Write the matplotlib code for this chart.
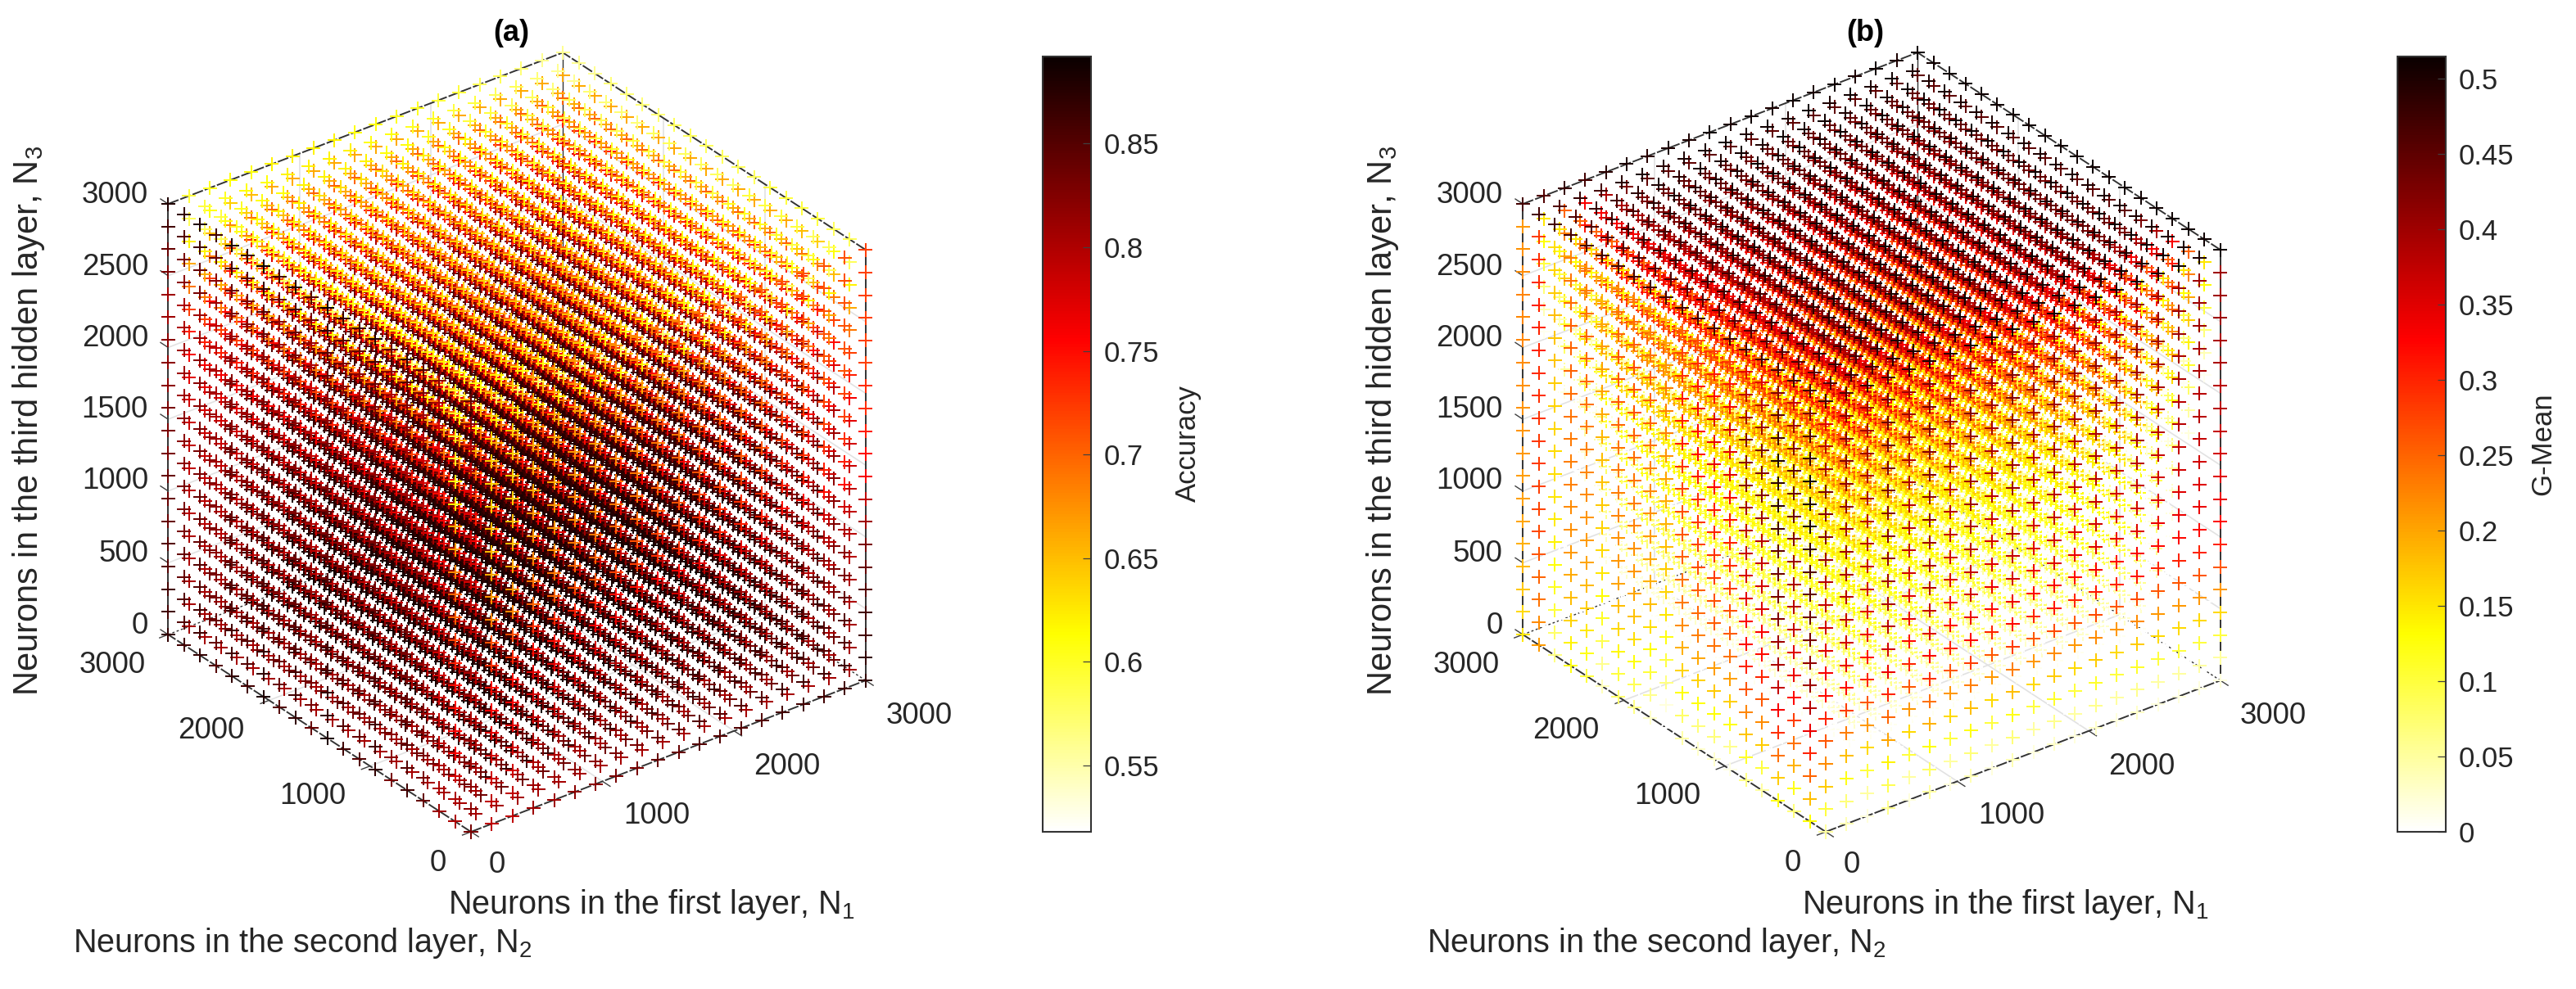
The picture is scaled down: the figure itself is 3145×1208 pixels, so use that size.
import numpy as np
import matplotlib
matplotlib.use("Agg")
import matplotlib.pyplot as plt
from mpl_toolkits.mplot3d import proj3d

plt.rcParams['font.family'] = ['Liberation Sans', 'DejaVu Sans']
plt.rcParams['mathtext.default'] = 'regular'

# ---------------------------------------------------------------------------
# Data. The individual 8000 values cannot be read from the overlapping picture,
# so these lists are coarse visual estimates per grid level, read off the visible
# faces and layers of the cube; a point takes its value by looking them up.
# ---------------------------------------------------------------------------
levels = [0, 158, 316, 474, 632, 789, 947, 1105, 1263, 1421,
          1579, 1737, 1895, 2053, 2211, 2368, 2526, 2684, 2842, 3000]
xy_ticks = [0, 1000, 2000, 3000]
z_ticks = [0, 500, 1000, 1500, 2000, 2500, 3000]

# (a) Accuracy
acc_left_j = [.80, .62, .78, .81, .83, .80, .84, .82, .83, .85, .81, .84, .82, .85, .83, .84, .82, .84, .83, .84]
acc_left_k = [.03, .02, .02, .01, .01, 0, 0, 0, -.01, -.01, -.01, -.02, -.02, -.02, -.03, -.03, -.01, 0, .02, .04]
acc_col1_k = [.80, .80, .78, .76, .76, .75, .75, .74, .72, .70, .70, .68, .67, .66, .62, .61, .60, .60, .60, .60]
acc_right_i = [.74, .72, .72, .74, .74, .75, .75, .76, .76, .77, .77, .78, .78, .78, .78, .79, .79, .79, .79, .80]
acc_right_k = [.07, .07, .06, .06, .05, .04, .03, .01, -.01, -.04, -.05, -.06, -.07, -.07, -.08, -.08, -.08, -.08, -.08, -.08]
acc_top_i = [.60, .61, .62, .63, .63, .64, .64, .64, .64, .63, .63, .62, .62, .61, .61, .60, .60, .59, .58, .58]
acc_top_j = [0, 0, 0, .01, .01, .01, .01, 0, 0, 0, 0, 0, 0, -.01, -.01, -.01, -.01, -.02, -.02, -.02]
acc_in_k = [.885, .885, .885, .88, .88, .875, .875, .87, .87, .865, .86, .85, .84, .82, .80, .77, .74, .70, .66, .60]
acc_in_m = [0, -.08, -.05, -.02, -.01, 0, 0, 0, 0, 0, 0, 0, 0, 0, 0, 0, 0, 0, 0, 0]

# (b) G-Mean
gm_left_j = [.30, .38, .32, .37, .30, .30, .24, .24, .23, .22, .15, .18, .20, .20, .15, .20, .21, .14, .27, .20]
gm_left_k = [-.25, -.20, -.13, -.08, -.04, 0, .02, .03, .05, .06, .07, .08, .10, .12, .12, .13, .10, .08, .05, .05]
gm_left_w = [1, 1, 1, 1, 1, .95, .9, .85, .8, .7, .65, .6, .55, .5, .45, .4, .35, .3, .25, .2]
gm_right_i = [.02, .02, 0, .04, 0, .03, 0, .02, 0, .02, 0, .01, 0, .01, 0, .01, 0, 0, 0, 0]
gm_right_k = [.02, .05, .10, .16, .21, .26, .30, .32, .34, .35, .36, .37, .38, .38, .39, .39, .40, .40, .40, .40]
gm_top_i = [.47, .46, .48, .47, .49, .50, .49, .50, .50, .51, .50, .51, .50, .51, .50, .51, .50, .51, .50, .51]
gm_in_k = [.03, .05, .08, .10, .12, .13, .14, .15, .17, .19, .22, .25, .28, .31, .34, .37, .40, .43, .45, .47]
gm_in_m = [0, -.30, -.20, -.12, -.06, -.02, 0, 0, 0, 0, 0, 0, 0, 0, 0, 0, 0, 0, 0, 0]

acc_ticks = [0.55, 0.6, 0.65, 0.7, 0.75, 0.8, 0.85]
acc_labels = ['0.55', '0.6', '0.65', '0.7', '0.75', '0.8', '0.85']
gm_ticks = [0, 0.05, 0.1, 0.15, 0.2, 0.25, 0.3, 0.35, 0.4, 0.45, 0.5]
gm_labels = ['0', '0.05', '0.1', '0.15', '0.2', '0.25', '0.3', '0.35', '0.4', '0.45', '0.5']
acc_lim = (0.518, 0.892)
gm_lim = (0.0, 0.5144)

W, H = 3145, 1208
fig = plt.figure(figsize=(W / 100, H / 100), dpi=100, facecolor='white')


def fx(x):
    return x / W


def fy(y):
    return 1 - y / H


I, J, K = np.meshgrid(np.arange(20), np.arange(20), np.arange(20), indexing='ij')
I, J, K = I.ravel(), J.ravel(), K.ravel()
lv = np.array(levels, float)
M_IDX = np.minimum(I, J)

v = np.array(acc_in_k)[K] + np.array(acc_in_m)[M_IDX]
v = np.where(K == 19, np.array(acc_top_i)[I] + np.array(acc_top_j)[J], v)
v = np.where(J == 0, np.array(acc_right_i)[I] + np.array(acc_right_k)[K], v)
v = np.where(I == 0, np.array(acc_left_j)[J] + np.array(acc_left_k)[K], v)
v = np.where((I == 0) & (J == 1), np.array(acc_col1_k)[K], v)
acc_values = np.clip(v, *acc_lim)

v = np.array(gm_in_k)[K] + np.array(gm_in_m)[M_IDX]
v = np.where(J == 0, np.array(gm_right_i)[I] + np.array(gm_right_k)[K], v)
v = np.where(I == 0, np.array(gm_left_j)[J] + np.array(gm_left_k)[K] * np.array(gm_left_w)[J], v)
v = np.where(K == 19, np.array(gm_top_i)[I], v)
gm_values = np.clip(v, *gm_lim)

TXT = '#262626'
TICK = '#404040'
EDGE = '#333333'
GRID = '#e2e2e2'


def panel(values, lim, title, origin, dx, cbar_x, ticks, labels, cname, cname_x):
    side = 1100
    ax = fig.add_axes([fx(origin[0] + 55 - side / 2), fy(origin[1] - 474 + side / 2), side / W, side / H],
                      projection='3d', computed_zorder=False)
    ax.patch.set_alpha(0)
    ax.set_proj_type('ortho')
    ax.view_init(elev=30, azim=-127.5)
    ax.set_xlim(0, 3000)
    ax.set_ylim(0, 3000)
    ax.set_zlim(0, 3000)
    ax.set_xticks(xy_ticks)
    ax.set_yticks(xy_ticks)
    ax.set_zticks(z_ticks)
    ax.set_axis_off()

    zoom = 1.0
    ax.set_box_aspect((1, 1, 1), zoom=zoom)

    def to_px(x, y, z):
        ax.apply_aspect()
        a, b, _ = proj3d.proj_transform(x, y, z, ax.get_proj())
        return ax.transData.transform((a, b))

    for _ in range(4):
        p0 = to_px(0, 0, 0)
        p1 = to_px(0, 0, 3000)
        zoom *= 526.0 / abs(p1[1] - p0[1])
        ax.set_box_aspect((1, 1, 1), zoom=zoom)
        p0 = to_px(0, 0, 0)
        pos = ax.get_position(original=True)
        ax.set_position([pos.x0 + (origin[0] - p0[0]) / W,
                         pos.y0 + ((H - origin[1]) - p0[1]) / H, pos.width, pos.height])

    # back-wall and floor grid
    for t in xy_ticks[1:-1]:
        ax.plot([t, t], [0, 3000], [0, 0], color=GRID, lw=1.2, zorder=1)
        ax.plot([0, 3000], [t, t], [0, 0], color=GRID, lw=1.2, zorder=1)
        ax.plot([t, t], [3000, 3000], [0, 3000], color=GRID, lw=1.2, zorder=1)
        ax.plot([3000, 3000], [t, t], [0, 3000], color=GRID, lw=1.2, zorder=1)
    for t in z_ticks[1:-1]:
        ax.plot([0, 3000], [3000, 3000], [t, t], color=GRID, lw=1.2, zorder=1)
        ax.plot([3000, 3000], [0, 3000], [t, t], color=GRID, lw=1.2, zorder=1)

    # box edges
    dash = (0, (7, 1.2))
    solid = dict(color=EDGE, lw=1.4, zorder=2)
    dashed = dict(color=EDGE, lw=1.4, ls=dash, zorder=2)
    back = dict(color=EDGE, lw=1.0, ls=(0, (2, 2)), zorder=2)
    ax.plot([0, 3000], [0, 0], [0, 0], **dashed)
    ax.plot([0, 0], [0, 3000], [0, 0], **dashed)
    ax.plot([3000, 3000], [0, 3000], [0, 0], **back)
    ax.plot([0, 3000], [3000, 3000], [0, 0], **back)
    ax.plot([0, 3000], [3000, 3000], [3000, 3000], **dashed)
    ax.plot([3000, 3000], [0, 3000], [3000, 3000], **dashed)
    ax.plot([0, 0], [3000, 3000], [0, 3000], **solid)
    ax.plot([3000, 3000], [0, 0], [0, 3000], **solid)
    ax.plot([3000, 3000], [3000, 3000], [0, 3000], color=EDGE, lw=1.0, zorder=2)

    # tick marks
    tk = dict(color=TICK, lw=1.0, zorder=2)
    for t in xy_ticks:
        ax.plot([t, t], [0, -75], [0, 0], **tk)
        ax.plot([0, -65], [t, t], [0, 0], **tk)
    for t in z_ticks:
        ax.plot([0, 0], [3000, 3075], [t, t], **tk)

    X, Y, Z = lv[I], lv[J], lv[K]
    sc = ax.scatter(X, Y, Z, c=values, cmap='hot_r', vmin=lim[0], vmax=lim[1], marker='+',
                    s=150, linewidths=1.45, depthshade=False, zorder=3)

    # text labels, placed where the reference has them
    fig.text(fx(dx + 624), fy(40), title, fontsize=26, fontweight='bold', ha='center', va='center', color='black')
    fs = 26.5
    for t, y in zip(z_ticks, [764, 676, 588, 500, 413, 326, 239]):
        fig.text(fx(dx + 181), fy(y), str(t), fontsize=fs, ha='right', va='center', color=TXT)
    for t, (x, y) in zip(xy_ticks, [(607, 1057), (802, 997), (961, 936), (1122, 875)]):
        fig.text(fx(dx + x), fy(y), str(t), fontsize=fs, ha='center', va='center', color=TXT)
    for t, (x, y) in zip(xy_ticks, [(535, 1054), (382, 972), (258, 893), (137, 813)]):
        fig.text(fx(dx + x), fy(y), str(t), fontsize=fs, ha='center', va='center', color=TXT)
    fig.text(fx(dx + 547), fy(1105), 'Neurons in the first layer, N$_{1}$', fontsize=28.5,
             ha='left', va='center', color=TXT)
    fig.text(fx(dx + 89), fy(1152), 'Neurons in the second layer, N$_{2}$', fontsize=28.5,
             ha='left', va='center', color=TXT)
    fig.text(fx(dx + 35), fy(514), 'Neurons in the third hidden layer, N$_{3}$', fontsize=30,
             rotation=90, ha='center', va='center', color=TXT)

    # colour bar
    cax = fig.add_axes([fx(cbar_x), fy(1016), 59 / W, (1016 - 69) / H])
    cb = fig.colorbar(sc, cax=cax)
    cb.set_ticks(ticks)
    cb.set_ticklabels(labels)
    cax.tick_params(axis='y', direction='in', length=7, width=0.9, color=TICK, labelcolor=TXT,
                    labelsize=25, pad=11)
    cb.outline.set_edgecolor(EDGE)
    cb.outline.set_linewidth(1.5)
    fig.text(fx(cname_x), fy(542), cname, fontsize=25, rotation=90, ha='center', va='center', color=TXT)
    return ax


panel(acc_values, acc_lim, '(a)', (575, 1016), 0, 1273, acc_ticks, acc_labels, 'Accuracy', 1450)
panel(gm_values, gm_lim, '(b)', (2229, 1016), 1653.5, 2927, gm_ticks, gm_labels, 'G-Mean', 3105)

fig.savefig('out.png', dpi=100, facecolor='white')
